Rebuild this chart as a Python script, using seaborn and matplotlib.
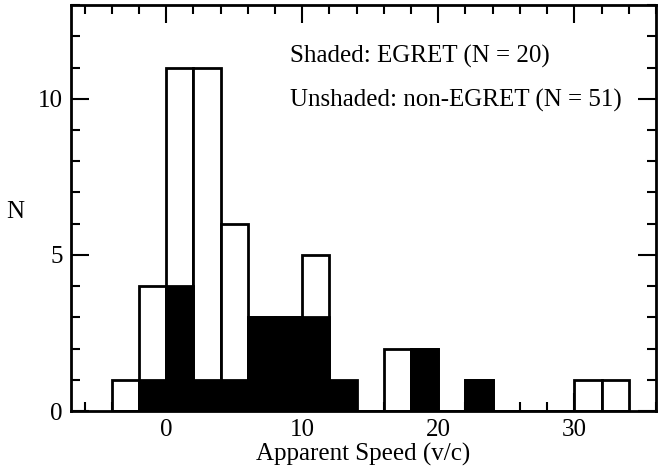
import numpy as np
import pandas as pd
import seaborn as sns
import matplotlib.pyplot as plt
from matplotlib.ticker import MultipleLocator

# bin edges (v/c), bins of width 2
bin_left = [-4, -2, 0, 2, 4, 6, 8, 10, 12, 14, 16, 18, 20, 22, 24, 26, 28, 30, 32]
non_egret = [1, 4, 11, 11, 6, 3, 3, 5, 0, 0, 2, 2, 0, 1, 0, 0, 0, 1, 1]
egret = [0, 1, 4, 1, 1, 3, 3, 3, 1, 0, 0, 2, 0, 1, 0, 0, 0, 0, 0]

edges = bin_left + [bin_left[-1] + 2]
df = pd.DataFrame({'center': [b + 1 for b in bin_left],
                   'non_egret': non_egret, 'egret': egret})

sns.set_style('ticks')
plt.rcParams['font.family'] = ['Liberation Serif', 'DejaVu Serif']
plt.rcParams['font.size'] = 18
plt.rcParams['text.color'] = 'black'
plt.rcParams['axes.labelcolor'] = 'black'

fig = plt.figure(figsize=(6.67, 4.70), dpi=100)
ax = fig.add_axes([0.1064, 0.1255, 0.877, 0.8635])

sns.histplot(data=df, x='center', weights='non_egret', bins=edges, ax=ax,
             color='white', edgecolor='black', linewidth=2, alpha=1)
sns.histplot(data=df, x='center', weights='egret', bins=edges, ax=ax,
             color='black', edgecolor='black', linewidth=2, alpha=1)

ax.set_xlim(-7, 36)
ax.set_ylim(0, 13)
ax.xaxis.set_major_locator(MultipleLocator(10))
ax.xaxis.set_minor_locator(MultipleLocator(2))
ax.yaxis.set_major_locator(MultipleLocator(5))
ax.yaxis.set_minor_locator(MultipleLocator(1))
ax.tick_params(which='both', direction='in', top=True, right=True, width=1.5,
               labelsize=18, pad=6, color='black', labelcolor='black')
ax.tick_params(which='major', length=13)
ax.tick_params(which='minor', length=6.5)
for s in ax.spines.values():
    s.set_linewidth(2)
    s.set_color('black')

ax.set_xlabel('Apparent Speed (v/c)', fontsize=18, labelpad=1)
ax.set_ylabel('N', fontsize=18, rotation=0, va='center')
ax.yaxis.set_label_coords(-0.095, 0.49)

ax.text(9.1, 11.35, 'Shaded: EGRET (N = 20)', fontsize=18, va='center')
ax.text(9.1, 9.95, 'Unshaded: non-EGRET (N = 51)', fontsize=18, va='center')

plt.savefig('out.png', dpi=100)
